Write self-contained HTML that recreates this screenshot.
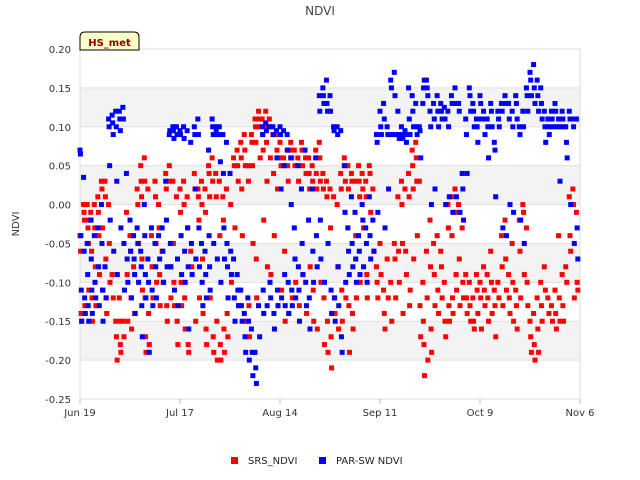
<!DOCTYPE html>
<html><head><meta charset="utf-8"><style>
html,body{margin:0;padding:0;background:#fff;}
svg{display:block;font-family:"DejaVu Sans","Liberation Sans",sans-serif;}
</style></head><body>
<svg id="chart" width="640" height="480" xmlns="http://www.w3.org/2000/svg">
<text x="320" y="15" text-anchor="middle" font-size="12" fill="#444">NDVI</text>
<text x="19" y="224" text-anchor="middle" font-size="10" fill="#333" transform="rotate(-90 19 224)">NDVI</text>
<g id="bands"></g>
<g id="grid"></g>
<g id="yticks"></g>
<g id="xticks"></g>
<g id="srs"></g>
<g id="par"></g>
<g>
<path d="M80,50 L80,37 Q80,32 85,32 L134,32 Q139,32 139,37 L139,50 Z" fill="#ffffc8" stroke="#000" stroke-width="1"/>
<text x="109.5" y="46" text-anchor="middle" font-size="10" font-weight="bold" fill="#8b0000">HS_met</text>
</g>
<g>
<rect x="231" y="457" width="7" height="7" fill="#f00"/>
<text x="248" y="464" font-size="10" fill="#222">SRS_NDVI</text>
<rect x="319" y="457" width="7" height="7" fill="#00f"/>
<text x="336" y="464" font-size="10" fill="#222">PAR-SW NDVI</text>
</g>
</svg>
<script>
const yTicks=[0.20,0.15,0.10,0.05,0.00,-0.05,-0.10,-0.15,-0.20,-0.25];
const yTickLabels=["0.20","0.15","0.10","0.05","0.00","-0.05","-0.10","-0.15","-0.20","-0.25"];
const xTickDays=[0,28,56,84,112,140];
const xTickLabels=["Jun 19","Jul 17","Aug 14","Sep 11","Oct 9","Nov 6"];
const srsValues=[
[-0.04,-0.06,-0.14,-0.15],[0.0,-0.01,-0.02,-0.13,-0.14],[0.0,-0.02,-0.03,-0.05,-0.11],[-0.01,-0.02,-0.06,-0.12,-0.15],[0.00,-0.03,-0.08,-0.13],
[0.01,-0.01,-0.04,-0.09],[0.03,0.02,-0.03,-0.11],[0.03,0.01,-0.07,-0.12,-0.14],[0.0,-0.05,-0.10],[-0.09,-0.12],
[-0.15,-0.17,-0.20],[-0.12,-0.15,-0.18,-0.19],[-0.15,-0.17],[-0.01,-0.09,-0.15],[-0.04,-0.06,-0.12,-0.16],
[-0.08,-0.14],[0.02,0.0,-0.05],[0.05,0.03,0.01,-0.07,-0.11],[0.06,0.03,-0.12,-0.17,-0.19],[0.02,-0.14,-0.18],
[-0.04,-0.08,-0.12],[0.03,0.01,-0.05,-0.10],[0.0,-0.03,-0.09,-0.13],[-0.06,-0.10],[0.04,0.02,-0.13,-0.15],
[0.05,0.03,-0.08,-0.12],[0.03,-0.05,-0.1,-0.13],[0.01,-0.15,-0.18],[0.02,-0.01,-0.10,-0.13],[0.03,0.0,-0.12,-0.16],
[0.01,-0.03,-0.18,-0.19],[-0.06,-0.08],[0.04,0.02,-0.15],[0.02,0.01,-0.02,-0.12],[0.03,0.0,-0.07,-0.14],
[0.02,-0.01,-0.16,-0.18],[0.05,0.04,0.01,-0.12],[0.06,0.03,-0.17,-0.19],[0.04,0.01,-0.15,-0.2],[0.03,-0.04,-0.18,-0.2],
[0.01,-0.02,-0.16,-0.19],[0.02,-0.14,-0.17],[0.04,0.0,-0.10],[0.06,0.05,-0.03],[0.07,0.05,0.03,-0.13],
[0.08,0.06,0.02,-0.04],[0.09,0.07,0.05,-0.15],[0.05,0.03,-0.13,-0.17],[0.09,0.08,0.05,-0.05],[0.11,0.10,0.08,-0.07,-0.12],
[0.12,0.11,0.10,0.06],[0.11,0.09,0.07,-0.02],[0.12,0.10,0.08,0.03,-0.08],[0.11,0.10,0.06,-0.09],[0.09,0.04,-0.04],
[0.09,0.07,0.02,-0.13],[0.08,0.06,0.05,-0.11],[0.06,0.05,-0.06,-0.15],[0.07,0.05,0.03,-0.14],[0.08,0.07,0.06,-0.12],
[0.07,0.05,-0.10],[0.06,0.03,-0.13],[0.08,0.07,0.05,-0.09],[0.07,0.06,0.04,-0.14],[0.06,0.04,0.02,-0.08],
[0.05,0.03,-0.11,-0.15],[0.07,0.04,0.02,-0.16],[0.08,0.06,0.03,-0.10],[0.04,0.02,-0.12,-0.18],[0.03,0.01,-0.15,-0.19],
[0.02,-0.03,-0.17,-0.21],[0.01,-0.12,-0.14],[0.0,-0.08,-0.16],[0.04,0.02,-0.11,-0.15],[0.06,0.05,0.03,-0.12],
[0.05,0.02,-0.13,-0.19],[0.04,0.03,-0.14,-0.16],[0.03,-0.04,-0.12],[0.05,0.03,0.01,-0.10],[0.04,0.02,-0.03],
[0.03,0.01,-0.09,-0.12],[0.05,0.04,-0.01],[0.02,-0.06],[-0.08,-0.10,-0.12],[-0.05,-0.09],
[-0.11,-0.14,-0.16],[-0.07,-0.12],[-0.10,-0.15],[-0.05,-0.07,-0.12],[0.01,-0.06,-0.10],
[0.03,0.0,-0.05,-0.14],[0.02,-0.06,-0.09],[0.04,0.01,-0.13,-0.11],[0.07,0.05,0.02,-0.07],[0.08,0.06,0.03,-0.04],
[0.03,-0.13,-0.17],[-0.10,-0.15,-0.18,-0.22],[-0.06,-0.12,-0.20],[-0.02,-0.08,-0.16,-0.19],[-0.05,-0.09,-0.13],
[-0.04,-0.11,-0.14],[-0.06,-0.08,-0.12],[-0.10,-0.15,-0.17],[0.0,-0.03,-0.13,-0.15],[0.01,-0.04,-0.12,-0.14],
[0.02,-0.01,-0.09,-0.11],[0.0,-0.07,-0.13],[-0.03,-0.10,-0.12],[-0.09,-0.12,-0.14],[-0.10,-0.13,-0.15],
[-0.12,-0.15,-0.16],[-0.09,-0.11,-0.14],[-0.10,-0.12,-0.16],[-0.08,-0.11,-0.13],[-0.09,-0.12,-0.15],
[-0.06,-0.10,-0.14],[-0.11,-0.13,-0.17],[-0.10,-0.12],[-0.04,-0.08,-0.13],[-0.02,-0.07,-0.11],
[-0.09,-0.12,-0.14],[-0.05,-0.10,-0.15],[-0.11,-0.13,-0.16],[-0.02,-0.06,-0.12],[0.0,-0.01,-0.09],
[-0.03,-0.10,-0.13],[-0.15,-0.17,-0.19],[-0.14,-0.18,-0.20],[-0.12,-0.16,-0.19],[-0.10,-0.13,-0.15],
[-0.08,-0.11],[-0.12,-0.14],[-0.13,-0.15],[-0.11,-0.14,-0.16],[-0.04,-0.12,-0.15],
[-0.09,-0.13,-0.15],[-0.08,-0.10],[0.01,-0.04,-0.06],[0.02,0.0,-0.12],[-0.01,-0.10,-0.11]
];
const parValues=[
[0.07,0.065,-0.04,-0.11,-0.15],[0.035,-0.06,-0.12,-0.14],[-0.05,-0.09,-0.13,-0.15],[-0.02,-0.07,-0.11,-0.14],[-0.04,-0.10,-0.12],
[-0.03,-0.08,-0.13],[0.0,-0.05,-0.11,-0.15],[-0.08,-0.12],[0.11,0.10,0.05,-0.02],[0.115,0.105,0.09,-0.06],
[0.12,0.10,0.03,-0.09],[0.12,0.11,0.095,-0.03],[0.125,0.11,-0.05,-0.11],[0.04,-0.07,-0.10],[-0.02,-0.06,-0.12],
[-0.04,-0.07,-0.09,-0.14],[-0.03,-0.05,-0.10],[-0.06,-0.08,-0.13,-0.17],[0.0,-0.04,-0.09,-0.12],[-0.07,-0.10,-0.19],
[-0.03,-0.11,-0.13],[-0.05,-0.08,-0.12],[-0.04,-0.07],[-0.03,-0.06,-0.10],[0.03,-0.02,-0.08],
[0.09,0.095,-0.05,-0.08],[0.10,0.095,0.085,-0.11],[0.10,0.09,-0.07,-0.13],[0.095,0.09,-0.04,-0.09],[0.10,0.085,-0.06,-0.10],
[0.095,-0.03,-0.08,-0.16],[0.08,-0.05,-0.09],[0.10,0.09,0.02,-0.07],[0.11,0.09,-0.03,-0.08],[-0.05,-0.10,-0.13],
[-0.06,-0.09,-0.12],[0.07,-0.04,-0.08,-0.11],[0.11,0.10,0.09,-0.05],[0.10,0.095,0.09,-0.07],[0.10,0.09,0.055,-0.10],
[0.09,0.04,-0.03,-0.07],[0.08,-0.05,-0.08,-0.12],[0.04,-0.06,-0.09],[-0.07,-0.12,-0.15],[-0.09,-0.11,-0.13],
[-0.11,-0.13,-0.15],[-0.14,-0.17,-0.19],[-0.12,-0.15,-0.20],[-0.16,-0.19,-0.22],[-0.19,-0.21,-0.23],
[-0.13,-0.17],[0.10,0.09,-0.11,-0.14],[0.105,0.095,-0.13],[0.10,-0.10,-0.12],[0.10,0.09,-0.14,-0.16],
[0.095,0.06,-0.11,-0.13],[0.10,0.09,0.02,-0.12],[0.095,0.05,-0.09,-0.13],[0.09,0.07,-0.10,-0.14],[0.06,0.0,-0.11,-0.13],
[-0.03,-0.07,-0.12],[0.05,-0.08,-0.11,-0.15],[0.02,-0.05,-0.09],[0.07,-0.10,-0.13],[-0.02,-0.12,-0.16],
[0.02,-0.06,-0.10],[0.06,-0.04,-0.08],[0.14,0.12,-0.02,-0.07],[0.15,0.14,0.13,-0.10],[0.16,0.13,0.12,-0.05],
[0.14,0.12,-0.11,-0.14],[0.10,0.095,-0.12,-0.15],[0.10,0.09,-0.08,-0.13],[0.095,-0.17,-0.19],[0.05,-0.01,-0.10],
[-0.03,-0.06,-0.09],[0.01,-0.05,-0.08],[-0.01,-0.07,-0.10],[-0.04,-0.06,-0.09],[0.0,-0.02,-0.08],
[-0.03,-0.05,-0.10],[0.01,-0.04,-0.07],[-0.02,-0.06],[0.09,0.08,-0.01],[0.12,0.10,0.09],
[0.13,0.11,-0.03],[0.10,0.09,0.02],[0.16,0.15,0.09],[0.17,0.14,0.09],[0.12,0.09,0.085],
[0.10,0.09,0.085],[0.095,0.09,0.08],[0.15,0.11,0.09],[0.14,0.12,0.10],[0.13,0.10,0.09],
[0.10,0.095,0.06],[0.13,0.15,0.16],[0.16,0.15,0.14],[0.12,0.10,0.0],[0.13,0.11,0.02],
[0.14,0.12,0.10],[0.13,0.12,0.11],[0.125,0.11,0.0],[0.12,0.10,0.01],[0.14,0.13,-0.01],
[0.15,0.13,0.01],[0.13,0.12,-0.01],[0.04,0.02,-0.02],[0.11,0.09,0.04],[0.15,0.14,0.12],
[0.13,0.12,0.10],[0.11,0.10,0.08],[0.14,0.13,0.11],[0.12,0.11,0.09],[0.11,0.10,0.06],
[0.13,0.12,0.10],[0.08,0.07,0.01],[0.12,0.11,0.10],[0.13,0.12,-0.03],[0.14,0.13,-0.04],
[0.13,0.11,0.0],[0.12,0.10,-0.01],[0.14,0.13,0.11],[0.10,0.09,-0.02],[0.12,0.10,-0.05],
[0.15,0.14,0.12],[0.17,0.16,0.14],[0.18,0.15,0.13],[0.16,0.14,0.12],[0.15,0.13,0.11],
[0.12,0.10,0.08],[0.11,0.10,0.09],[0.12,0.11,0.10],[0.13,0.12,0.10],[0.11,0.10,0.03],
[0.12,0.11,0.10],[0.10,0.08,0.06],[0.12,0.11,0.0],[0.11,0.10,-0.05],[0.11,-0.03,-0.07]
];
const NS='http://www.w3.org/2000/svg';
const L=80,R=580,T=49,B=399,yMin=-0.25,yMax=0.20,dMax=140;
function xScale(d){return L+(d/dMax)*(R-L);}
function yScale(v){return B-(v-yMin)/(yMax-yMin)*(B-T);}
function mk(tag,attrs,parent){const e=document.createElementNS(NS,tag);for(const k in attrs)e.setAttribute(k,attrs[k]);parent.appendChild(e);return e;}
const bands=document.getElementById('bands');
mk('rect',{x:L,y:T,width:R-L,height:B-T,fill:'#fff'},bands);
[[0.15,0.10],[0.05,0.0],[-0.05,-0.10],[-0.15,-0.20]].forEach(b=>{
  const r=mk('rect',{x:L,y:yScale(b[0]),width:R-L,height:yScale(b[1])-yScale(b[0]),fill:'#f3f3f3'},bands);
  
  
});
const grid=document.getElementById('grid');
const yt=document.getElementById('yticks');
yTicks.forEach((v,i)=>{
  const y=yScale(v);
  const gl=mk('line',{x1:L,x2:R,y1:y,y2:y,stroke:'#e0e0e0','stroke-width':1},grid);
  
  
  const t=mk('text',{x:71,y:y+4,'text-anchor':'end','font-size':10,fill:'#333'},yt);
  t.textContent=yTickLabels[i];
  
  
});
mk('rect',{x:L,y:T,width:R-L,height:B-T,fill:'none',stroke:'#ddd','stroke-width':1},grid);
const xt=document.getElementById('xticks');
xTickDays.forEach((d,i)=>{
  const x=xScale(d);
  mk('line',{x1:x,x2:x,y1:B,y2:B+5,stroke:'#bbb'},xt);
  const t=mk('text',{x:x,y:416,'text-anchor':'middle','font-size':10,fill:'#333'},xt);
  t.textContent=xTickLabels[i];
  
  
});
function draw(vals,gid,color,name){
  const g=document.getElementById(gid);
  vals.forEach((arr,d)=>{
    arr.forEach((v,i)=>{
      const x=xScale(d+i*0.6/arr.length);
      const p=mk('rect',{x:x-2.5,y:yScale(v)-2.5,width:5,height:5,fill:color},g);
      
      
    });
  });
}
draw(srsValues,'srs','#f00','srs-point');
draw(parValues,'par','#00f','par-sw-point');
</script>
</body></html>
